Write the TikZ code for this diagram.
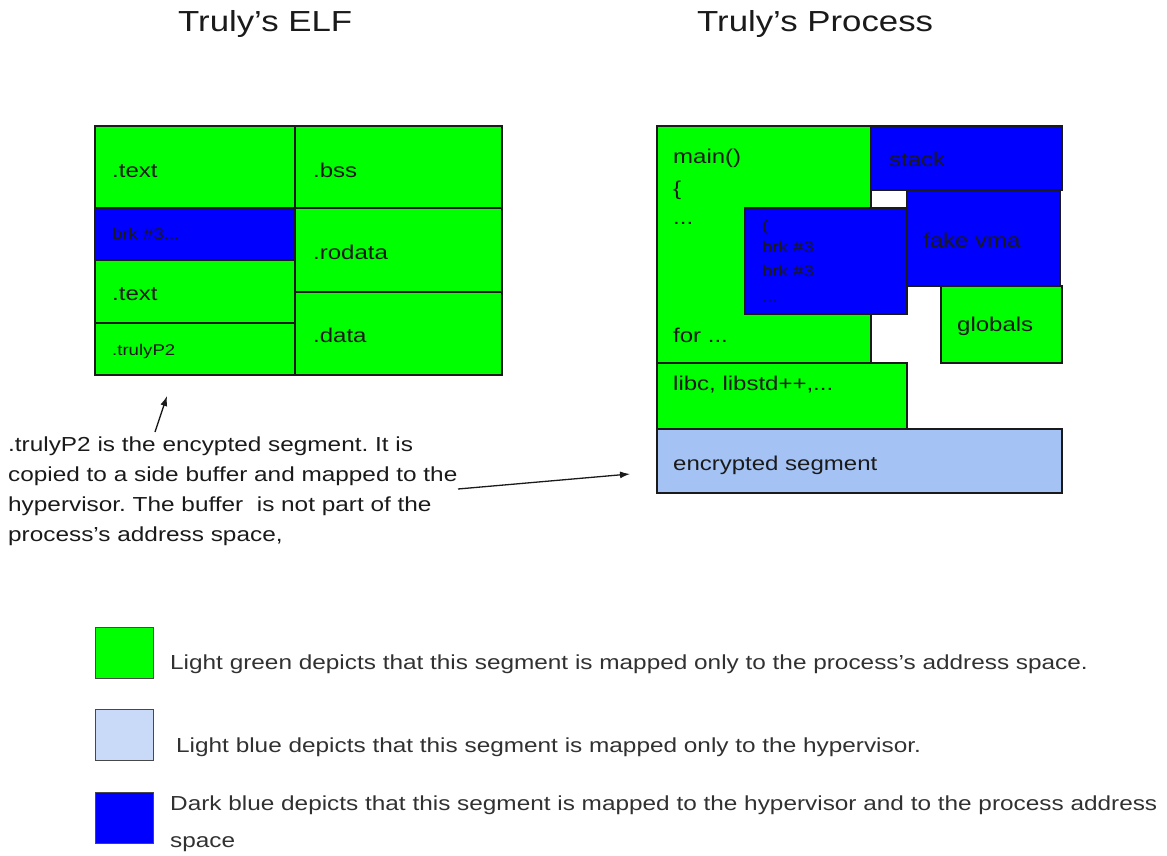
\documentclass[tikz,border=0pt]{standalone}
\usepackage{fontspec}
\setmainfont[FakeStretch=1.2]{Liberation Sans}
\usetikzlibrary{positioning,calc,fit,arrows.meta}
\frenchspacing

\definecolor{mapgreen}{HTML}{00FF00}
\definecolor{mapblue}{HTML}{0000FF}
\definecolor{encblue}{HTML}{A4C2F4}
\definecolor{hypblue}{HTML}{C9DAF8}
\definecolor{ink}{HTML}{1A1A1A}

\tikzset{
  seg/.style={draw=ink, line width=1.3pt, inner sep=0pt, rectangle},
  lbl/.style={anchor=base west, inner sep=0pt, text=ink, font=\fontsize{20}{24}\selectfont},
  small/.style={lbl, font=\fontsize{15.5}{18}\selectfont},
  heading/.style={anchor=base west, inner sep=0pt, text=ink, font=\fontsize{29}{36}\selectfont},
  note/.style={anchor=north west, inner sep=0pt, align=left, text=ink, font=\fontsize{20.3}{30}\selectfont},
  keybox/.style={draw=ink!80, line width=1.3pt, inner sep=0pt, anchor=north west,
    minimum width=58pt, minimum height=51pt},
  keytext/.style={anchor=base west, inner sep=0pt, align=left, text=ink!90,
    font=\fontsize{20.3}{37}\selectfont},
  pointer/.style={-{Latex[length=10pt,width=7pt]}, line width=1.3pt, draw=ink}
}

\begin{document}
\begin{tikzpicture}[x=1pt, y=-1pt]
  \useasboundingbox (0,0) rectangle (1167,856);

  \node[heading] (elftitle) at (178,32) {Truly’s ELF};
  \node[heading] (proctitle) at (697,32) {Truly’s Process};

  \node[seg, fill=mapgreen, fit={(95,126) (295,208)}] (elftext) {};
  \node[seg, fill=mapblue, fit={(95,208) (295,260)}] (elfbrk) {};
  \node[seg, fill=mapgreen, fit={(95,260) (295,323)}] (elftexttwo) {};
  \node[seg, fill=mapgreen, fit={(95,323) (295,375)}] (elfpt) {};
  \node[seg, fill=mapgreen, fit={(295,126) (502,208)}] (elfbss) {};
  \node[seg, fill=mapgreen, fit={(295,208) (502,292)}] (elfrodata) {};
  \node[seg, fill=mapgreen, fit={(295,292) (502,375)}] (elfdata) {};

  \node[lbl] (elftextl) at (112,177) {.text};
  \node[small] (elfbrkl) at (112,239) {brk \#3...};
  \node[lbl] (elftexttwol) at (112,300) {.text};
  \node[small] (elfptl) at (112,355) {.trulyP2};
  \node[lbl] (elfbssl) at (313,177) {.bss};
  \node[lbl] (elfrodatal) at (313,259) {.rodata};
  \node[lbl] (elfdatal) at (313,342) {.data};

  \node[seg, fill=mapgreen, fit={(657,126) (871,363)}] (main) {};
  \node[seg, fill=mapblue, fit={(871,126) (1062,190)}] (stack) {};
  \node[seg, fill=mapblue, fit={(907,190) (1060,286)}] (fakevma) {};
  \node[seg, fill=mapblue, fit={(745,208) (907,314)}] (brkblock) {};
  \node[seg, fill=mapgreen, fit={(941,286) (1062,363)}] (globals) {};
  \node[seg, fill=mapgreen, fit={(657,363) (907,429)}] (libs) {};
  \node[seg, fill=encblue, fit={(657,429) (1062,493)}] (encseg) {};

  \node[lbl] (mainl) at (673,164) {main()};
  \node[lbl] (openl) at (673,195) {\{};
  \node[lbl] (dotsl) at (673,224) {...};
  \node[lbl] (forl) at (673,342) {for ...};
  \node[small] (parenl) at (762,231) {(};
  \node[small] (brkonel) at (762,252) {brk \#3};
  \node[small] (brktwol) at (762,276) {brk \#3};
  \node[small] (brkdotsl) at (762,302) {...};
  \node[lbl] (stackl) at (889,167) {stack};
  \node[lbl] (fakevmal) at (923,247) {fake vma};
  \node[lbl] (globalsl) at (957,331) {globals};
  \node[lbl] (libsl) at (673,390) {libc, libstd++,...};
  \node[lbl] (encsegl) at (673,470) {encrypted segment};

  \node[note] (ptnote) at (8,437) {.trulyP2 is the encypted segment. It is\\
    copied to a side buffer and mapped to the\\
    hypervisor. The buffer~ is not part of the\\
    process’s address space,};
  \coordinate (pttail) at (155,432);
  \coordinate (pttip) at (167,396);
  \coordinate (buftail) at (458,489);
  \coordinate (buftip) at (630,474);
  \draw[pointer] (pttail) -- (pttip);
  \draw[pointer] (buftail) -- (buftip);

  \node[keybox, fill=mapgreen] (keygreen) at (95,627) {};
  \node[keybox, fill=hypblue] (keylight) at (95,709) {};
  \node[keybox, fill=mapblue] (keydark) at (95,792) {};
  \node[keytext] (keygreenl) at (170,669) {Light green depicts that this segment is mapped only to the process’s address space.};
  \node[keytext] (keylightl) at (176,752) {Light blue depicts that this segment is mapped only to the hypervisor.};
  \node[keytext] (keydarkl) at (170,847) {Dark blue depicts that this segment is mapped to the hypervisor and to the process address\\space};
\end{tikzpicture}
\end{document}
